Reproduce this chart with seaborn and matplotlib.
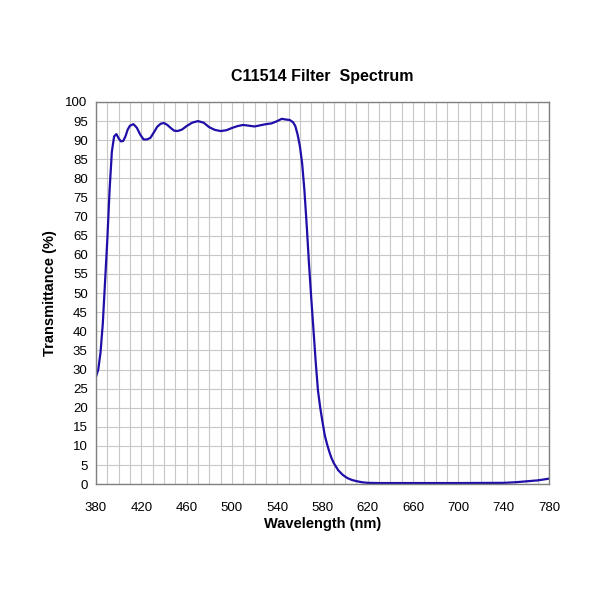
import matplotlib
matplotlib.use('Agg')
import matplotlib.pyplot as plt
from matplotlib.ticker import MultipleLocator, FixedLocator
import pandas as pd
import seaborn as sns

sns.set_style("whitegrid")
plt.rcParams['font.family'] = ['Liberation Sans', 'DejaVu Sans']
plt.rcParams['text.color'] = 'black'
plt.rcParams['axes.labelcolor'] = 'black'
plt.rcParams['xtick.color'] = 'black'
plt.rcParams['ytick.color'] = 'black'

wavelength = [380, 382, 384, 386, 388, 390, 392, 394, 396, 398, 400, 402, 404, 406, 408,
              410, 413, 416, 419, 422, 425, 428, 431, 434, 437, 440, 443, 446, 449, 452,
              456, 460, 465, 470, 475, 480, 485, 490, 495, 500, 505, 510, 515, 520, 525,
              530, 535, 540, 544, 548, 551, 554, 556, 558, 560, 562, 564, 566, 568, 570,
              572, 574, 576, 578, 580, 582, 584, 586, 588, 590, 594, 598, 602, 606, 610,
              615, 620, 630, 650, 700, 740, 750, 760, 770, 780]
transmittance = [28.1, 30.0, 34.5, 42.0, 53.0, 64.0, 77.0, 87.0, 91.0, 91.6, 90.5, 89.7, 89.8, 91.0, 92.8,
                 93.8, 94.2, 93.3, 91.5, 90.2, 90.2, 90.6, 92.0, 93.5, 94.3, 94.5, 94.0, 93.2, 92.5, 92.4,
                 92.8, 93.7, 94.6, 95.0, 94.6, 93.4, 92.7, 92.4, 92.6, 93.2, 93.7, 94.0, 93.8, 93.6, 93.9,
                 94.2, 94.4, 95.0, 95.6, 95.4, 95.3, 94.7, 93.7, 91.5, 88.5, 84.0, 77.0, 68.0, 58.0, 49.0,
                 40.5, 32.0, 24.5, 20.0, 16.3, 12.8, 10.5, 8.5, 6.8, 5.5, 3.6, 2.4, 1.6, 1.1, 0.8,
                 0.5, 0.35, 0.3, 0.3, 0.3, 0.35, 0.5, 0.75, 1.0, 1.45]
x_ticks = [380, 420, 460, 500, 540, 580, 620, 660, 700, 740, 780]

df = pd.DataFrame({'Wavelength': wavelength, 'Transmittance': transmittance})

fig = plt.figure(figsize=(6, 6), dpi=100)
ax = fig.add_axes([0.16, 0.193, 0.755, 0.637])
sns.lineplot(data=df, x='Wavelength', y='Transmittance', ax=ax, color='#1f0fa8', linewidth=1.6)

ax.set_xlim(380, 780)
ax.set_ylim(0, 100)
ax.xaxis.set_major_locator(FixedLocator(x_ticks))
ax.xaxis.set_minor_locator(MultipleLocator(10))
ax.yaxis.set_major_locator(MultipleLocator(5))
ax.grid(which='both', color='#c8c8c8', linewidth=0.8)
ax.tick_params(which='both', length=0, labelsize=9.5)
ax.tick_params(axis='y', pad=6)
ax.tick_params(axis='x', pad=13)
for s in ax.spines.values():
    s.set_color('#808080')
    s.set_linewidth(1.0)

ax.set_title('C11514 Filter  Spectrum', fontsize=11.5, fontweight='bold', pad=15)
ax.set_xlabel('Wavelength (nm)', fontsize=10.5, fontweight='bold', labelpad=2)
ax.set_ylabel('Transmittance (%)', fontsize=10.5, fontweight='bold', labelpad=6)

fig.savefig('out.png', dpi=100)
plt.close(fig)
